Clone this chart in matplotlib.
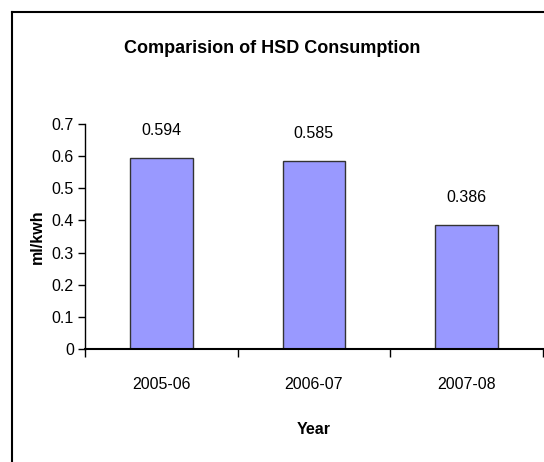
import matplotlib
matplotlib.use("Agg")
import matplotlib.pyplot as plt
from matplotlib.lines import Line2D
import numpy as np

# Data
years = ["2005-06", "2006-07", "2007-08"]
consumption = [0.594, 0.585, 0.386]
ytick_vals = [0, 0.1, 0.2, 0.3, 0.4, 0.5, 0.6, 0.7]
ytick_labels = ["0", "0.1", "0.2", "0.3", "0.4", "0.5", "0.6", "0.7"]

plt.rcParams['font.family'] = ['Liberation Sans', 'DejaVu Sans']

fig = plt.figure(figsize=(5.44, 4.62), dpi=100)
ax = fig.add_axes([0.156, 0.2446, 0.842, 0.487])

x = np.arange(len(years))
ax.bar(x, consumption, width=0.41, color='#9999FF', edgecolor='#333333', linewidth=1.0)

# value labels above bars
for xi, v in zip(x, consumption):
    ax.annotate(f"{v:.3f}", (xi, v), xytext=(0, 20), textcoords='offset points',
                ha='center', va='center', fontsize=11.5)

ax.set_xlim(-0.5, len(years) - 0.5)
ax.set_ylim(0, 0.7)

# ticks at category boundaries, labels at centers
ax.set_xticks(np.arange(-0.5, len(years), 1.0))
ax.set_xticklabels([])
ax.set_xticks(x, minor=True)
ax.set_xticklabels(years, minor=True, fontsize=11.5)
ax.tick_params(axis='x', which='major', direction='out', length=6, width=1)
ax.tick_params(axis='x', which='minor', length=0, pad=20)

ax.set_yticks(ytick_vals)
ax.set_yticklabels(ytick_labels, fontsize=11.5)
ax.tick_params(axis='y', direction='out', length=5, width=1, pad=3)

for side in ['top', 'right']:
    ax.spines[side].set_visible(False)
ax.spines['left'].set_linewidth(1.0)
ax.spines['bottom'].set_linewidth(1.5)

ax.set_xlabel("Year", fontsize=11.5, fontweight='bold', labelpad=22)
ax.set_ylabel("ml/kwh", fontsize=11.5, fontweight='bold', labelpad=5)

fig.text(0.5, 0.894, "Comparision of HSD Consumption", ha='center', va='center',
         fontsize=13, fontweight='bold')

# outer chart frame (top and left edges visible)
fig.add_artist(Line2D([0.022, 1.0], [0.975, 0.975], transform=fig.transFigure,
                      color='black', linewidth=1.5))
fig.add_artist(Line2D([0.022, 0.022], [0.0, 0.975], transform=fig.transFigure,
                      color='black', linewidth=1.5))

fig.savefig("out.png", dpi=100)
